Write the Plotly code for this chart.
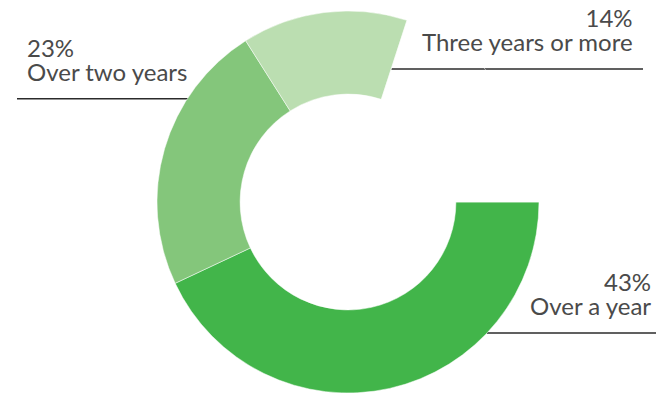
import plotly.graph_objects as go

# Share of respondents by duration
categories = ["Over a year", "Over two years", "Three years or more"]
shares = [43, 23, 14]
colors = ["#42b54a", "#84c67b", "#bbdeb1"]

W, H = 656, 395
remainder = 100 - sum(shares)

fig = go.Figure()
fig.add_trace(go.Pie(
    values=shares + [remainder],
    labels=categories + [""],
    marker=dict(colors=colors + ["rgba(0,0,0,0)"], line=dict(color="white", width=0.5)),
    sort=False,
    direction="clockwise",
    rotation=90,
    hole=0.565,
    textinfo="none",
    hoverinfo="skip",
    showlegend=False,
    domain=dict(x=[157 / W, 539 / W], y=[(H - 393) / H, (H - 11) / H]),
))


def px(x):
    return x / W


def py(y):
    return 1 - y / H


# line pitch is 1.3 em of the base size, so a small base size keeps the two
# label lines tight while the spans carry the visible size
label_size = 24
line_pitch = 24
base_font = dict(family="Lato, sans-serif", size=line_pitch / 1.3, color="#4a4a4a")
line = dict(color="#2b2b2b", width=1.4)

# label blocks: (index, anchor x, align, baseline of second line, leader line x0, x1)
blocks = [
    (0, 652, "right", 315, 487, 656),
    (1, 26, "left", 80.7, 17, 190),
    (2, 634, "right", 51, 391, 643),
]

for idx, ax, align, base, x0, x1 in blocks:
    text = (f'<span style="font-size:{label_size}px">{shares[idx]}%</span><br>'
            f'<span style="font-size:{label_size}px">{categories[idx]}</span>')
    fig.add_annotation(
        x=px(ax), y=py(base + 6), xref="paper", yref="paper",
        text=text, showarrow=False, xanchor=align, yanchor="bottom",
        align=align, font=base_font, borderpad=0,
    )
    fig.add_shape(type="line", xref="paper", yref="paper",
                  x0=px(x0), x1=px(x1), y0=py(base + 18), y1=py(base + 18),
                  line=line, layer="below")

fig.update_layout(
    width=W, height=H,
    margin=dict(l=0, r=0, t=0, b=0),
    paper_bgcolor="white",
    plot_bgcolor="white",
)

fig.write_html("out.html")
